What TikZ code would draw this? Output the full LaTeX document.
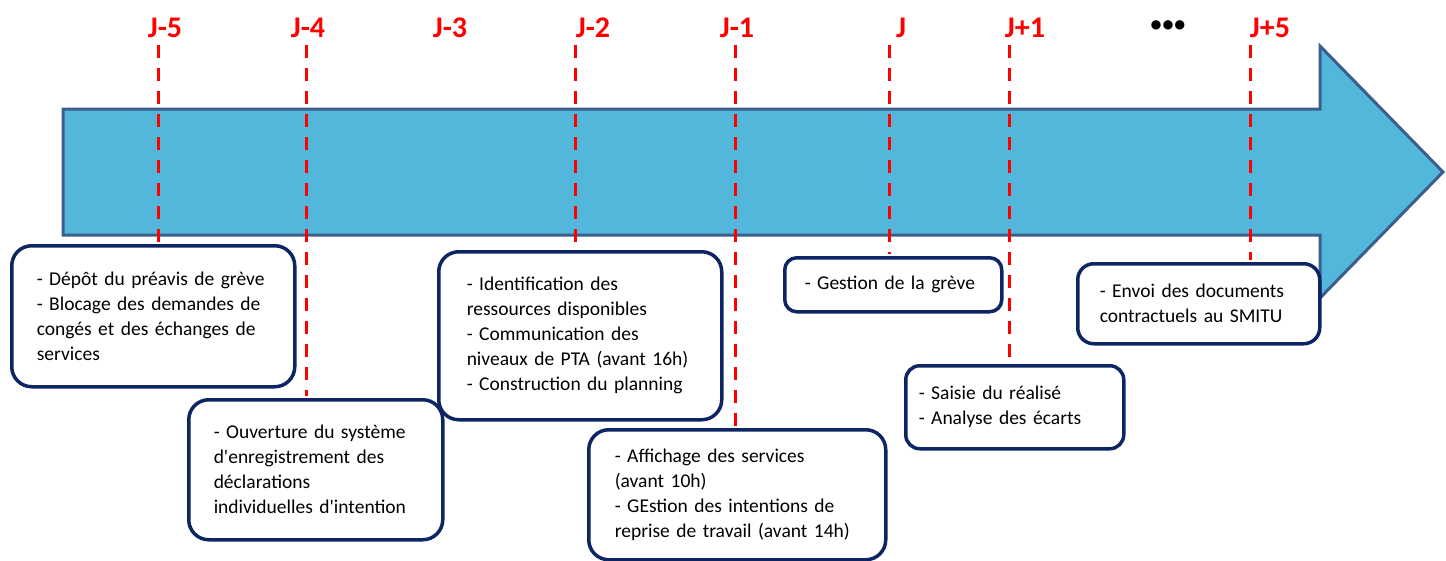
\documentclass[tikz,border=0pt]{standalone}
\usepackage{fontspec}
\setmainfont{Carlito}
\usepackage{tikz}

\definecolor{arrowfill}{HTML}{53B7DC}
\definecolor{arrowline}{HTML}{3B5E8C}
\definecolor{boxline}{HTML}{0E2564}
\definecolor{dayred}{HTML}{FF0000}

\begin{document}
\begin{tikzpicture}[x=1pt,y=-1pt,
    day/.style={text=dayred,font=\fontsize{30}{34}\selectfont\bfseries,inner sep=0pt},
    tick/.style={draw=dayred,line width=3pt,dash pattern=on 13pt off 10pt,shorten >=2pt},
    task/.style n args={3}{draw=boxline,line width=3.5pt,fill=white,rounded corners=20pt,
        anchor=north west,align=left,inner ysep=0pt,font=\fontsize{19.5}{25}\selectfont,
        text width=#1,inner xsep=#2,minimum height=#3}]
\useasboundingbox (0,0) rectangle (1446,560);

    % the time arrow
    \draw[arrowline,fill=arrowfill,line width=3pt]
        (63,109) -- (1320,109) -- (1320,46) -- (1443,172) -- (1320,298) -- (1320,235) -- (63,235) -- cycle;

    % days
    \node[day] (j5) at (165,28) {J-5};
    \node[day] (j4) at (308,28) {J-4};
    \node[day] (j3) at (450,28) {J-3};
    \node[day] (j2) at (593,28) {J-2};
    \node[day] (j1) at (737,28) {J-1};
    \node[day] (j0) at (901,28) {J};
    \node[day] (jp1) at (1025,28) {J+1};
    \node[font=\fontsize{22}{26}\selectfont\bfseries,inner sep=0pt] (dots) at (1168,26)
        {\textbullet\kern1pt\textbullet\kern1pt\textbullet};
    \node[day] (jp5) at (1270,28) {J+5};

    \coordinate (t5) at (158,45);
    \coordinate (t4) at (306,45);
    \coordinate (t2) at (575,45);
    \coordinate (t1) at (735,45);
    \coordinate (t0) at (889,45);
    \coordinate (tp1) at (1009,45);
    \coordinate (tp5) at (1250,45);

    % tasks
    \node[task={233pt}{25pt}{141pt}] (dep) at (10,244)
        {- Dépôt du préavis de grève\\- Blocage des demandes de\\congés et des échanges de\\services};
    \node[task={204pt}{25pt}{140pt}] (ouv) at (187,398)
        {- Ouverture du système\\d\textquotesingle enregistrement des\\déclarations\\individuelles d\textquotesingle intention};
    \node[task={227pt}{28pt}{168pt}] (ident) at (437,250)
        {- Identification des\\ressources disponibles\\- Communication des\\niveaux de PTA (avant 16h)\\- Construction du planning};
    \node[task={245pt}{26pt}{130pt}] (affi) at (587,428)
        {- Affichage des services\\(avant 10h)\\- GEstion des intentions de\\reprise de travail (avant 14h)};
    \node[task={177pt}{20pt}{54pt},rounded corners=12pt] (gest) at (783,256)
        {- Gestion de la grève};
    \node[task={192pt}{13pt}{83pt},rounded corners=14pt] (sais) at (904,364)
        {- Saisie du réalisé\\- Analyse des écarts};
    \node[task={198pt}{22pt}{80pt},rounded corners=16pt] (envoi) at (1076,262)
        {- Envoi des documents\\contractuels au SMITU};

    % links day -> task
    \foreach \t/\b in {t5/dep,t4/ouv,t2/ident,t1/affi,t0/gest,tp1/sais,tp5/envoi}
        \draw[tick] (\t) -- (\t |- \b.north);
\end{tikzpicture}
\end{document}
